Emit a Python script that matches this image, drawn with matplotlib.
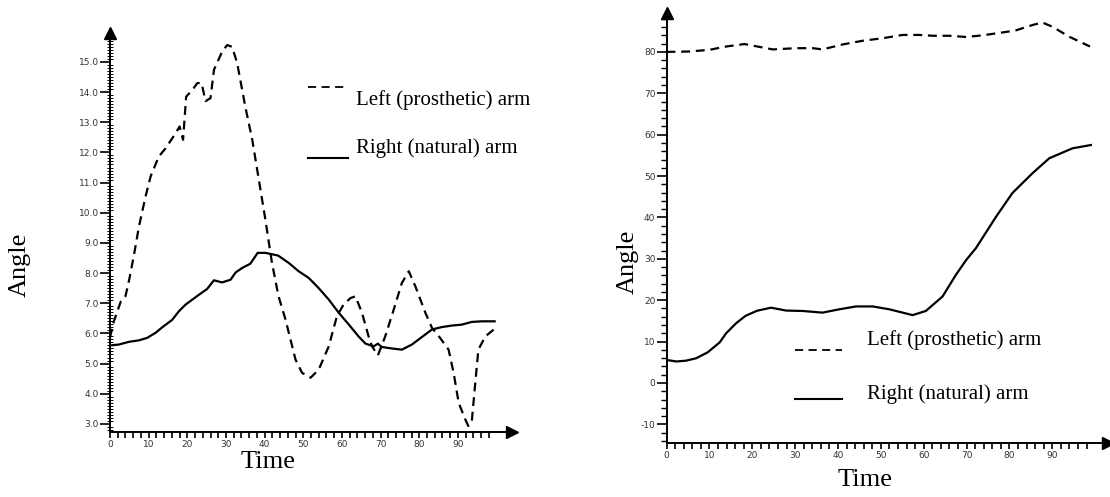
import numpy as np
import matplotlib
matplotlib.use("Agg")
import matplotlib.pyplot as plt
from matplotlib.lines import Line2D
from matplotlib.ticker import MultipleLocator, FormatStrFormatter

# Left chart: values
left_x_prost = [0, 1.0, 2.8, 4.0, 5.0, 6.2, 7.5, 9.2, 10.5, 12.6, 14.4, 17.0, 18.0, 18.9, 19.7,
                21.3, 22.6, 23.7, 24.7, 26.0, 26.9, 29.0, 30.3, 31.6, 32.9, 35.0, 36.8, 38.5,
                40.2, 41.9, 43.6, 45.4, 48.0, 49.7, 51.9, 54.0, 56.6, 58.7, 60.4, 62.2, 63.5,
                65.2, 66.9, 67.8, 69.3, 71.2, 73.4, 75.5, 77.3, 79.0, 81.6, 83.3, 85.4, 87.6,
                88.9, 90.2, 91.9, 92.7, 93.6, 94.5, 95.3, 97.1, 99.5]
left_y_prost = [5.86, 6.4, 7.06, 7.23, 7.8, 8.6, 9.55, 10.54, 11.2, 11.86, 12.14, 12.64, 12.86,
                12.42, 13.85, 14.07, 14.3, 14.3, 13.7, 13.8, 14.74, 15.34, 15.56, 15.5, 14.96,
                13.52, 12.42, 11.1, 9.77, 8.34, 7.23, 6.46, 5.13, 4.69, 4.53, 4.80, 5.57, 6.57,
                6.95, 7.17, 7.23, 6.68, 5.9, 5.57, 5.27, 5.9, 6.79, 7.67, 8.06, 7.56, 6.68,
                6.18, 5.85, 5.46, 4.69, 3.70, 3.15, 2.93, 3.09, 4.36, 5.46, 5.90, 6.15]

left_x_nat = [0, 2.3, 4.9, 7.5, 9.6, 11.8, 13.5, 16.1, 17.8, 19.5, 21.3, 23.0, 25.1, 26.9, 29.0,
              31.2, 32.5, 34.2, 36.3, 38.2, 40.2, 43.5, 46.3, 48.8, 51.4, 54.0, 56.6, 59.2,
              61.8, 64.3, 66.1, 68.2, 69.3, 70.3, 72.9, 75.5, 78.1, 80.7, 83.3, 85.9, 88.5,
              91.0, 93.6, 96.2, 99.5]
left_y_nat = [5.6, 5.63, 5.72, 5.77, 5.85, 6.02, 6.2, 6.45, 6.73, 6.95, 7.12, 7.28, 7.47, 7.76,
              7.69, 7.78, 8.02, 8.17, 8.31, 8.67, 8.67, 8.58, 8.33, 8.06, 7.84, 7.5, 7.12, 6.68,
              6.29, 5.9, 5.66, 5.57, 5.66, 5.55, 5.5, 5.46, 5.63, 5.88, 6.13, 6.21, 6.26, 6.29,
              6.38, 6.40, 6.40]

# Right chart
right_x_prost = [0, 5.4, 10.0, 13.9, 18.2, 20.7, 24.8, 30.2, 34.1, 36.4, 41.1, 45.8, 50.4, 55.1,
                 59.0, 62.1, 66.0, 69.9, 73.7, 78.4, 81.5, 85.4, 87.7, 90.0, 93.9, 98.8]
right_y_prost = [80.0, 80.1, 80.5, 81.3, 81.9, 81.4, 80.6, 80.9, 80.9, 80.6, 81.8, 82.7, 83.3,
                 84.1, 84.1, 83.9, 83.9, 83.6, 84.0, 84.7, 85.2, 86.5, 87.1, 86.1, 83.7, 81.3]

right_x_nat = [0, 2.3, 4.6, 6.9, 9.6, 12.4, 13.9, 16.2, 18.4, 21.1, 24.4, 27.9, 31.8, 36.4,
               40.3, 44.2, 48.1, 52.0, 55.1, 57.4, 60.5, 64.4, 67.5, 69.9, 72.2, 76.9, 80.7,
               85.4, 89.3, 94.7, 99.0]
right_y_nat = [5.56, 5.2, 5.4, 5.97, 7.4, 9.8, 12.0, 14.4, 16.2, 17.45, 18.2, 17.5, 17.4, 17.0,
               17.8, 18.5, 18.5, 17.8, 17.0, 16.4, 17.4, 20.9, 26.1, 29.7, 32.6, 40.2, 45.9,
               50.7, 54.3, 56.7, 57.5]

leg_labels = ["Left (prosthetic) arm", "Right (natural) arm"]

W, H = 1110, 497
fig = plt.figure(figsize=(W / 100, H / 100), dpi=100)
serif = "Liberation Serif"
sans = "Liberation Sans"


def px_box(x0, x1, ytop, ybot):
    return [x0 / W, 1 - ybot / H, (x1 - x0) / W, (ybot - ytop) / H]


def style_axes(ax, ymajor, yminor, fmt, ymin_dir, ymin_len, ymin_w):
    for s in ["top", "right"]:
        ax.spines[s].set_visible(False)
    for s in ["left", "bottom"]:
        ax.spines[s].set_linewidth(1.4)
    ax.xaxis.set_major_locator(MultipleLocator(10))
    ax.xaxis.set_minor_locator(MultipleLocator(2))
    ax.yaxis.set_major_locator(MultipleLocator(ymajor))
    ax.yaxis.set_minor_locator(MultipleLocator(yminor))
    ax.yaxis.set_major_formatter(FormatStrFormatter(fmt))
    ax.tick_params(axis="x", which="both", direction="out", length=4, width=1.2, pad=2,
                   labelsize=6.5, labelcolor="#333333")
    ax.tick_params(axis="y", which="major", direction="out", length=7, width=1.2, pad=1,
                   labelsize=6.5, labelcolor="#333333")
    ax.tick_params(axis="y", which="minor", direction=ymin_dir, length=ymin_len, width=ymin_w)
    # arrow heads
    ax.plot(1, 0, ">", color="black", markersize=8, transform=ax.transAxes, clip_on=False)
    ax.plot(0, 1, "^", color="black", markersize=8, transform=ax.transAxes, clip_on=False)


# ---- left chart ----
ax1 = fig.add_axes(px_box(110, 512, 33, 432))
ax1.set_xlim(0, 104)
ax1.set_ylim(2.73, 15.96)
ax1.plot(left_x_prost, left_y_prost, color="black", lw=1.6, dashes=(4, 2.6))
ax1.plot(left_x_nat, left_y_nat, color="black", lw=1.6)
style_axes(ax1, 1.0, 0.1, "%.1f", "inout", 4, 0.7)
ax1.set_xticks([t for t in range(0, 100, 10)])
ax1.set_xticks([t for t in range(0, 100, 2)], minor=True)
ax1.set_yticks(np.arange(3, 15.01, 1.0))
fig.text(268 / W, 1 - 462 / H, "Time", family=serif, fontsize=19, ha="center", va="center")
fig.text(20 / W, 1 - 265 / H, "Angle", family=serif, fontsize=19, ha="center", va="center",
         rotation=90)

# ---- right chart ----
ax2 = fig.add_axes(px_box(666.5, 1108, 13, 443))
ax2.set_xlim(0, 103)
ax2.set_ylim(-14.5, 89.4)
ax2.plot(right_x_prost, right_y_prost, color="black", lw=1.6, dashes=(4, 2.6))
ax2.plot(right_x_nat, right_y_nat, color="black", lw=1.6)
style_axes(ax2, 10, 2, "%d", "out", 4, 1.0)
ax2.set_xticks([t for t in range(0, 100, 10)])
ax2.set_xticks([t for t in range(0, 100, 2)], minor=True)
ax2.set_yticks(range(-10, 81, 10))
ax2.set_yticks(range(-14, 89, 2), minor=True)
fig.text(865 / W, 1 - 480 / H, "Time", family=serif, fontsize=19, ha="center", va="center")
fig.text(628 / W, 1 - 262 / H, "Angle", family=serif, fontsize=19, ha="center", va="center",
         rotation=90)

# ---- hand-placed legends ----
def legend(xl0, xl1, y_dash, y_solid, xt, yt_dash, yt_solid):
    fig.add_artist(Line2D([xl0 / W, xl1 / W], [1 - y_dash / H, 1 - y_dash / H],
                          color="black", lw=1.3, dashes=(4.5, 3)))
    fig.add_artist(Line2D([xl0 / W, xl1 / W], [1 - y_solid / H, 1 - y_solid / H],
                          color="black", lw=1.5))
    fig.text(xt / W, 1 - yt_dash / H, leg_labels[0], family=serif, fontsize=15, va="center")
    fig.text(xt / W, 1 - yt_solid / H, leg_labels[1], family=serif, fontsize=15, va="center")


legend(308, 348, 87, 158, 356, 100, 148)
legend(795, 842, 350, 399, 867, 340, 394)

fig.savefig("out.png", dpi=100)
